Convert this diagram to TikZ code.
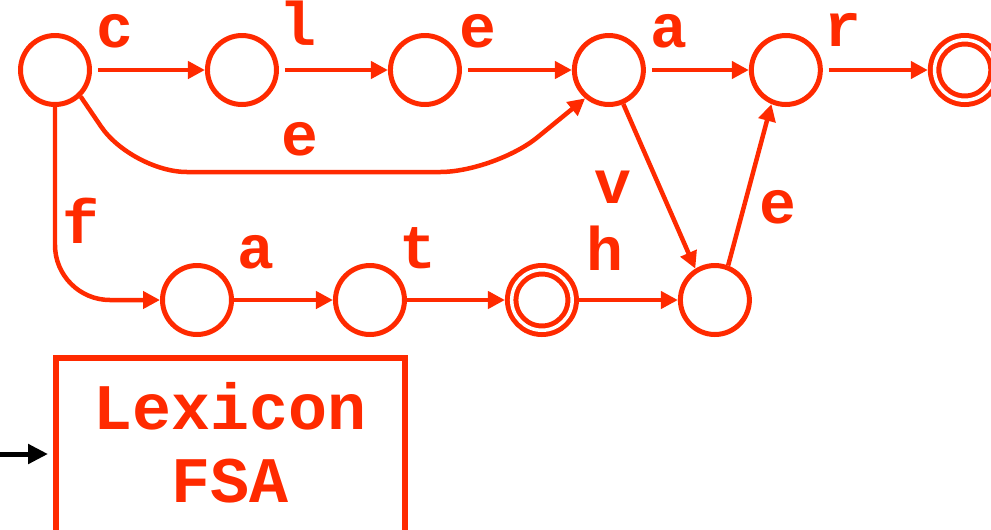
\documentclass[tikz,border=0pt]{standalone}
\usepackage{fontspec}
\setmonofont{Liberation Mono}
\usetikzlibrary{arrows.meta, positioning}
\definecolor{fsared}{RGB}{255,42,0}

\begin{document}
\begin{tikzpicture}[
  x=0.02cm, y=-0.02cm,
  fsastate/.style={draw=fsared, circle, line width=0.1cm, minimum size=1.38cm, inner sep=0pt},
  fsaaccept/.style={fsastate, double, double distance=0.07cm, minimum size=1.21cm, outer sep=0.135cm},
  lbl/.style={text=fsared, font=\ttfamily\bfseries\fontsize{35}{42}\selectfont, anchor=base, inner sep=0pt},
  arrow/.style={draw=fsared, line width=0.09cm, -{Triangle[length=0.34cm, width=0.34cm]}},
  topgap/.style={shorten <=0.12cm},
  lexbox/.style={draw=fsared, line width=0.12cm, text=fsared, align=center,
                 font=\ttfamily\bfseries\fontsize{37}{42}\selectfont,
                 minimum width=6.98cm, inner ysep=0.48cm},
  inarrow/.style={draw=black, line width=0.1cm, -{Triangle[length=0.4cm, width=0.38cm]}, shorten >=0.1cm}
]
  \useasboundingbox (0,0) rectangle (991,529);

  % upper path: c l e a r
  \node[fsastate] (s0) at (55,70) {};
  \node[fsastate, right=2.26cm of s0] (s1) {};
  \node[fsastate, right=2.18cm of s1] (s2) {};
  \node[fsastate, right=2.2cm of s2] (s3) {};
  \node[fsastate, right=2.06cm of s3] (s4) {};
  \node[fsaaccept, right=2.1cm of s4] (s5) {};

  % lower path: f a t h
  \node[fsastate] (s6) at (197,300) {};
  \node[fsastate, right=1.98cm of s6] (s7) {};
  \node[fsaaccept, right=1.96cm of s7] (s8) {};
  \node[fsastate, right=1.98cm of s8] (s9) {};

  % transitions
  \draw[arrow, topgap] (s0) -- (s1);
  \draw[arrow, topgap] (s1) -- (s2);
  \draw[arrow, topgap] (s2) -- (s3);
  \draw[arrow, topgap] (s3) -- (s4);
  \draw[arrow, topgap] (s4) -- (s5);
  \draw[arrow, rounded corners=1.1cm] (s0.-46) -- (132,172) -- (495,172) -- (s3.-130);
  \draw[arrow, rounded corners=1.1cm] (s0.south) |- (s6.west);
  \draw[arrow] (s6) -- (s7);
  \draw[arrow] (s7) -- (s8);
  \draw[arrow] (s8) -- (s9);
  \draw[arrow] (s3.-67) -- (s9.122);
  \draw[arrow] (s9.69) -- (s4.-113);

  % labels
  \node[lbl] (lc) at (115,47) {c};
  \node[lbl] (ll) at (298,45) {l};
  \node[lbl] (le1) at (478,47) {e};
  \node[lbl] (la1) at (669,47) {a};
  \node[lbl] (lr) at (843,46) {r};
  \node[lbl] (le2) at (300,155) {e};
  \node[lbl] (lv) at (613,203) {v};
  \node[lbl] (le3) at (778,223) {e};
  \node[lbl] (lf) at (81,243) {f};
  \node[lbl] (la2) at (256,268) {a};
  \node[lbl] (lt) at (418,268) {t};
  \node[lbl] (lh) at (605,270) {h};

  % lexicon box
  \node[lexbox, anchor=north, text depth=3cm] (lex) at (230.5,355) {Lexicon\\FSA};
  \coordinate (src) at (0,454);
  \draw[inarrow] (src) -- (src -| lex.west);
\end{tikzpicture}
\end{document}
